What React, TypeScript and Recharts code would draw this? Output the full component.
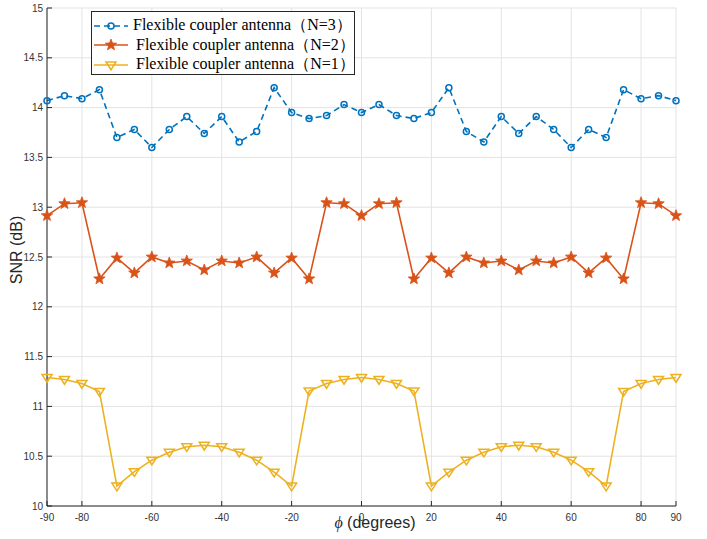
import { LineChart, Line, XAxis, YAxis, CartesianGrid } from "recharts";

const phi = [
  -90, -85, -80, -75, -70, -65, -60, -55, -50, -45, -40, -35, -30, -25, -20, -15, -10, -5, 0,
  5, 10, 15, 20, 25, 30, 35, 40, 45, 50, 55, 60, 65, 70, 75, 80, 85, 90,
];

const snrN3 = [
  14.07, 14.12, 14.09, 14.18, 13.7, 13.78, 13.6, 13.78, 13.91, 13.74, 13.91, 13.655, 13.76, 14.2, 13.95, 13.89, 13.92, 14.03, 13.95,
  14.03, 13.92, 13.89, 13.95, 14.2, 13.76, 13.655, 13.91, 13.74, 13.91, 13.78, 13.6, 13.78, 13.7, 14.18, 14.09, 14.12, 14.07,
];

const snrN2 = [
  12.915, 13.035, 13.045, 12.28, 12.49, 12.34, 12.5, 12.44, 12.46, 12.37, 12.46, 12.44, 12.5, 12.34, 12.49, 12.28, 13.045, 13.035, 12.915,
  13.035, 13.045, 12.28, 12.49, 12.34, 12.5, 12.44, 12.46, 12.37, 12.46, 12.44, 12.5, 12.34, 12.49, 12.28, 13.045, 13.035, 12.915,
];

const snrN1 = [
  11.29, 11.27, 11.23, 11.15, 10.2, 10.345, 10.46, 10.54, 10.595, 10.61, 10.595, 10.54, 10.46, 10.34, 10.2, 11.155, 11.23, 11.27, 11.29,
  11.27, 11.23, 11.155, 10.2, 10.34, 10.46, 10.54, 10.595, 10.61, 10.595, 10.54, 10.46, 10.345, 10.2, 11.15, 11.23, 11.27, 11.29,
];

const xTicks = [-90, -80, -60, -40, -20, 0, 20, 40, 60, 80, 90];
const yTicks = [10, 10.5, 11, 11.5, 12, 12.5, 13, 13.5, 14, 14.5, 15];

const seriesNames = [
  "Flexible coupler antenna（N=3）",
  "Flexible coupler antenna（N=2）",
  "Flexible coupler antenna（N=1）",
];

const BLUE = "#0072BD";
const ORANGE = "#D95319";
const YELLOW = "#EDB120";
const AXIS = "#262626";
const FONT = "'Liberation Sans', Arial, sans-serif";

const data = phi.map((p, i) => ({ phi: p, n3: snrN3[i], n2: snrN2[i], n1: snrN1[i] }));

function starPath(cx: number, cy: number, r: number) {
  const pts: string[] = [];
  for (let k = 0; k < 10; k++) {
    const rad = k % 2 === 0 ? r : r * 0.42;
    const a = -Math.PI / 2 + (k * Math.PI) / 5;
    pts.push(`${cx + rad * Math.cos(a)},${cy + rad * Math.sin(a)}`);
  }
  return `M${pts.join("L")}Z`;
}

function triPath(cx: number, cy: number, r: number) {
  return `M${cx - r},${cy - r * 0.6}L${cx + r},${cy - r * 0.6}L${cx},${cy + r * 0.95}Z`;
}

const StarDot = (props: any) => {
  const { cx, cy } = props;
  if (cx == null || cy == null) return <g key={props.key} />;
  return <path key={props.key} d={starPath(cx, cy, 6)} fill={ORANGE} stroke={ORANGE} strokeWidth={0.8} />;
};

const TriDot = (props: any) => {
  const { cx, cy } = props;
  if (cx == null || cy == null) return <g key={props.key} />;
  return <path key={props.key} d={triPath(cx, cy, 5)} fill="none" stroke={YELLOW} strokeWidth={1.5} />;
};

// matlab-style ticks pointing into the plot
const X_MARGIN = 8;
const Y_MARGIN = 4;
const TICK_LEN = 5;

const XTick = (props: any) => {
  const { x, y, payload } = props;
  const axisY = y - X_MARGIN;
  return (
    <g>
      <line x1={x} x2={x} y1={axisY} y2={axisY - TICK_LEN} stroke={AXIS} strokeWidth={1} />
      <text x={x} y={y} dy="0.71em" textAnchor="middle" fontSize={10} fill="#333" fontFamily={FONT}>
        {payload.value}
      </text>
    </g>
  );
};

const YTick = (props: any) => {
  const { x, y, payload } = props;
  const axisX = x + Y_MARGIN;
  return (
    <g>
      <line x1={axisX} x2={axisX + TICK_LEN} y1={y} y2={y} stroke={AXIS} strokeWidth={1} />
      <text x={x} y={y} dy="0.355em" textAnchor="end" fontSize={10} fill="#333" fontFamily={FONT}>
        {payload.value}
      </text>
    </g>
  );
};

// legend drawn on top of the chart so it doesn't eat plot space
const ChartLegend = () => {
  const rows = [
    { name: seriesNames[0], color: BLUE, kind: "circle" },
    { name: seriesNames[1], color: ORANGE, kind: "star" },
    { name: seriesNames[2], color: YELLOW, kind: "tri" },
  ];
  return (
    <div
      style={{
        position: "absolute",
        left: 91,
        top: 11,
        border: "1px solid #262626",
        background: "#fff",
        width: 262,
        height: 58,
        padding: "4px 0 0 0",
        boxSizing: "content-box",
      }}
    >
      {rows.map((r, i) => (
        <div key={i} style={{ display: "flex", alignItems: "center", height: 19.5 }}>
          <svg width={41} height={20} style={{ flex: "none" }}>
            <line
              x1={2}
              x2={36}
              y1={10}
              y2={10}
              stroke={r.color}
              strokeWidth={1.6}
              strokeDasharray={r.kind === "circle" ? "6 4" : undefined}
            />
            {r.kind === "circle" && <circle cx={19} cy={10} r={3} fill="none" stroke={r.color} strokeWidth={1.5} />}
            {r.kind === "star" && <path d={starPath(19, 10, 6)} fill={r.color} stroke={r.color} strokeWidth={0.8} />}
            {r.kind === "tri" && <path d={triPath(19, 10, 5)} fill="none" stroke={r.color} strokeWidth={1.5} />}
          </svg>
          <span
            style={{
              fontFamily: "'Liberation Serif', 'Times New Roman', serif",
              fontSize: 16,
              color: "#000",
              whiteSpace: "nowrap",
              marginLeft: i === 0 ? 0 : 3,
            }}
          >
            {r.name}
          </span>
        </div>
      ))}
    </div>
  );
};

export default function App() {
  return (
    <div style={{ position: "absolute", left: 0, top: 0, width: 707, height: 539, background: "#fff" }}>
      <LineChart width={707} height={539} data={data} margin={{ top: 8, right: 31, bottom: 0, left: 0 }}>
        <CartesianGrid stroke="#e3e3e3" strokeWidth={1} />
        <XAxis
          dataKey="phi"
          type="number"
          domain={[-90, 90]}
          ticks={xTicks}
          interval={0}
          height={33}
          tick={<XTick />}
          tickLine={false}
          tickSize={0}
          tickMargin={X_MARGIN}
          axisLine={{ stroke: AXIS, strokeWidth: 1 }}
          label={{
            content: () => (
              <text x={375} y={528} textAnchor="middle" fontSize={16} fill={AXIS} fontFamily={FONT}>
                <tspan fontStyle="italic" fontFamily="'Liberation Serif', serif">ϕ</tspan>
                <tspan> (degrees)</tspan>
              </text>
            ),
          }}
        />
        <YAxis
          type="number"
          domain={[10, 15]}
          ticks={yTicks}
          interval={0}
          width={47}
          tick={<YTick />}
          tickLine={false}
          tickSize={0}
          tickMargin={Y_MARGIN}
          axisLine={{ stroke: AXIS, strokeWidth: 1 }}
          label={{
            content: () => (
              <text
                x={22}
                y={250}
                textAnchor="middle"
                fontSize={16}
                fill={AXIS}
                fontFamily={FONT}
                transform="rotate(-90 22 250)"
              >
                SNR (dB)
              </text>
            ),
          }}
        />
        <Line
          dataKey="n3"
          name={seriesNames[0]}
          type="linear"
          stroke={BLUE}
          strokeWidth={1.6}
          strokeDasharray="6 4"
          dot={{ r: 3, fill: "none", stroke: BLUE, strokeWidth: 1.5, strokeDasharray: "" }}
          activeDot={false}
          isAnimationActive={false}
        />
        <Line
          dataKey="n2"
          name={seriesNames[1]}
          type="linear"
          stroke={ORANGE}
          strokeWidth={1.6}
          dot={StarDot}
          activeDot={false}
          isAnimationActive={false}
        />
        <Line
          dataKey="n1"
          name={seriesNames[2]}
          type="linear"
          stroke={YELLOW}
          strokeWidth={1.6}
          dot={TriDot}
          activeDot={false}
          isAnimationActive={false}
        />
      </LineChart>
      <ChartLegend />
    </div>
  );
}
